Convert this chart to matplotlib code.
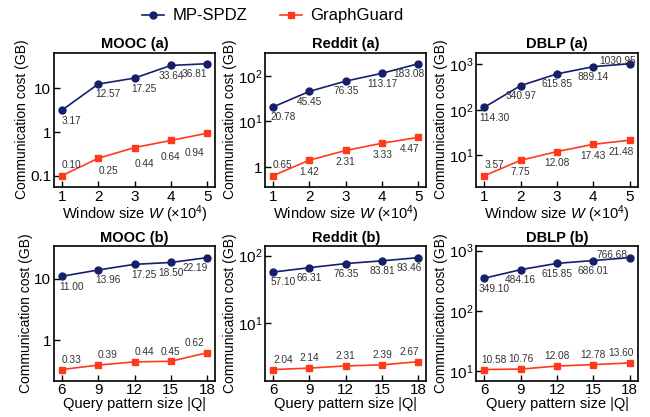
import numpy as np
import matplotlib
matplotlib.use('Agg')
import matplotlib.pyplot as plt

# communication cost (GB)
window = [1, 2, 3, 4, 5]
query = [6, 9, 12, 15, 18]

mooc_w_mp = [3.17, 12.57, 17.25, 33.64, 36.81]
mooc_w_gg = [0.10, 0.25, 0.44, 0.64, 0.94]
reddit_w_mp = [20.78, 45.45, 76.35, 113.17, 183.08]
reddit_w_gg = [0.65, 1.42, 2.31, 3.33, 4.47]
dblp_w_mp = [114.30, 340.97, 615.85, 889.14, 1030.95]
dblp_w_gg = [3.57, 7.75, 12.08, 17.43, 21.48]

mooc_q_mp = [11.00, 13.96, 17.25, 18.50, 22.19]
mooc_q_gg = [0.33, 0.39, 0.44, 0.45, 0.62]
reddit_q_mp = [57.10, 66.31, 76.35, 83.81, 93.46]
reddit_q_gg = [2.04, 2.14, 2.31, 2.39, 2.67]
dblp_q_mp = [349.10, 484.16, 615.85, 686.01, 766.68]
dblp_q_gg = [10.58, 10.76, 12.08, 12.78, 13.60]

titles = ['MOOC (a)', 'Reddit (a)', 'DBLP (a)', 'MOOC (b)', 'Reddit (b)', 'DBLP (b)']
yticks = [[0.1, 1, 10], [1, 10, 100], [10, 100, 1000],
          [1, 10], [10, 100], [10, 100, 1000]]
yticklabels = [['0.1', '1', '10'], ['1', '$10^1$', '$10^2$'], ['$10^1$', '$10^2$', '$10^3$'],
               ['1', '10'], ['$10^1$', '$10^2$'], ['$10^1$', '$10^2$', '$10^3$']]

plt.rcParams['font.family'] = ['Liberation Sans', 'DejaVu Sans']
plt.rcParams['mathtext.fontset'] = 'custom'
plt.rcParams['mathtext.rm'] = 'Liberation Sans'
plt.rcParams['mathtext.it'] = 'Liberation Sans:italic'
plt.rcParams['mathtext.bf'] = 'Liberation Sans:bold'

c_mp = '#15206b'
c_gg = '#ff3a1c'

fig = plt.figure(figsize=(6.5, 4.17), dpi=100)

lefts = [0.083, 0.408, 0.733]
bottoms = [0.552, 0.087]
w = 0.248
h = 0.322

panels = [
    (window, mooc_w_mp, mooc_w_gg),
    (window, reddit_w_mp, reddit_w_gg),
    (window, dblp_w_mp, dblp_w_gg),
    (query, mooc_q_mp, mooc_q_gg),
    (query, reddit_q_mp, reddit_q_gg),
    (query, dblp_q_mp, dblp_q_gg),
]


def put_labels(ax, x, y, dxs, dys):
    for xi, yi, dx, dy in zip(x, y, dxs, dys):
        ax.annotate('%.2f' % yi, (xi, yi), xytext=(dx, dy), textcoords='offset points',
                    ha='center', va='center', fontsize=7.3, color='#333333')


for k, (x, mp, gg) in enumerate(panels):
    row = k // 3
    col = k % 3
    ax = fig.add_axes([lefts[col], bottoms[row], w, h])
    ax.plot(x, mp, '-o', color=c_mp, lw=1.2, ms=5, label='MP-SPDZ')
    ax.plot(x, gg, '-s', color=c_gg, lw=1.2, ms=5, label='GraphGuard')
    ax.set_yscale('log')
    ax.margins(x=0.055, y=0.1)
    ax.set_yticks(yticks[k])
    ax.set_yticklabels(yticklabels[k])
    ax.minorticks_off()
    ax.set_xticks(x)
    ax.tick_params(direction='in', length=4, width=1, labelsize=11, pad=2)
    for s in ax.spines.values():
        s.set_linewidth(1.2)
    ax.set_title(titles[k], fontsize=10.5, fontweight='bold', pad=3)
    ax.set_ylabel('Communication cost (GB)', fontsize=10, labelpad=1)
    if row == 0:
        ax.set_xlabel('Window size $W$ ($\\times10^4$)', fontsize=10.5, labelpad=0)
    else:
        ax.set_xlabel('Query pattern size |Q|', fontsize=10.5, labelpad=0)

    if col == 0:
        dxs = [7, 7, 7, 0, -9]
    else:
        dxs = [7, 0, 0, 0, -6.5]
    mp_dys = [-7.5] * 5
    mp_dxs = list(dxs)
    if col == 2:
        mp_dys[4] = 2
        mp_dxs[4] = -9 if row == 0 else -13
    put_labels(ax, x, mp, mp_dxs, mp_dys)
    if row == 0:
        gg_dys = [8] + [-8.5] * 4
        if col == 0:
            gg_dys = [8, -9.5, -12, -12, -14]
    else:
        gg_dys = [7] * 5
    put_labels(ax, x, gg, dxs, gg_dys)

handles, labels = ax.get_legend_handles_labels()
fig.legend(handles, labels, loc='center', bbox_to_anchor=(0.42, 0.962), ncol=2,
           frameon=False, fontsize=12, handlelength=1.3, handletextpad=0.5,
           columnspacing=2.0, borderaxespad=0)

plt.savefig('out.png', dpi=100)
